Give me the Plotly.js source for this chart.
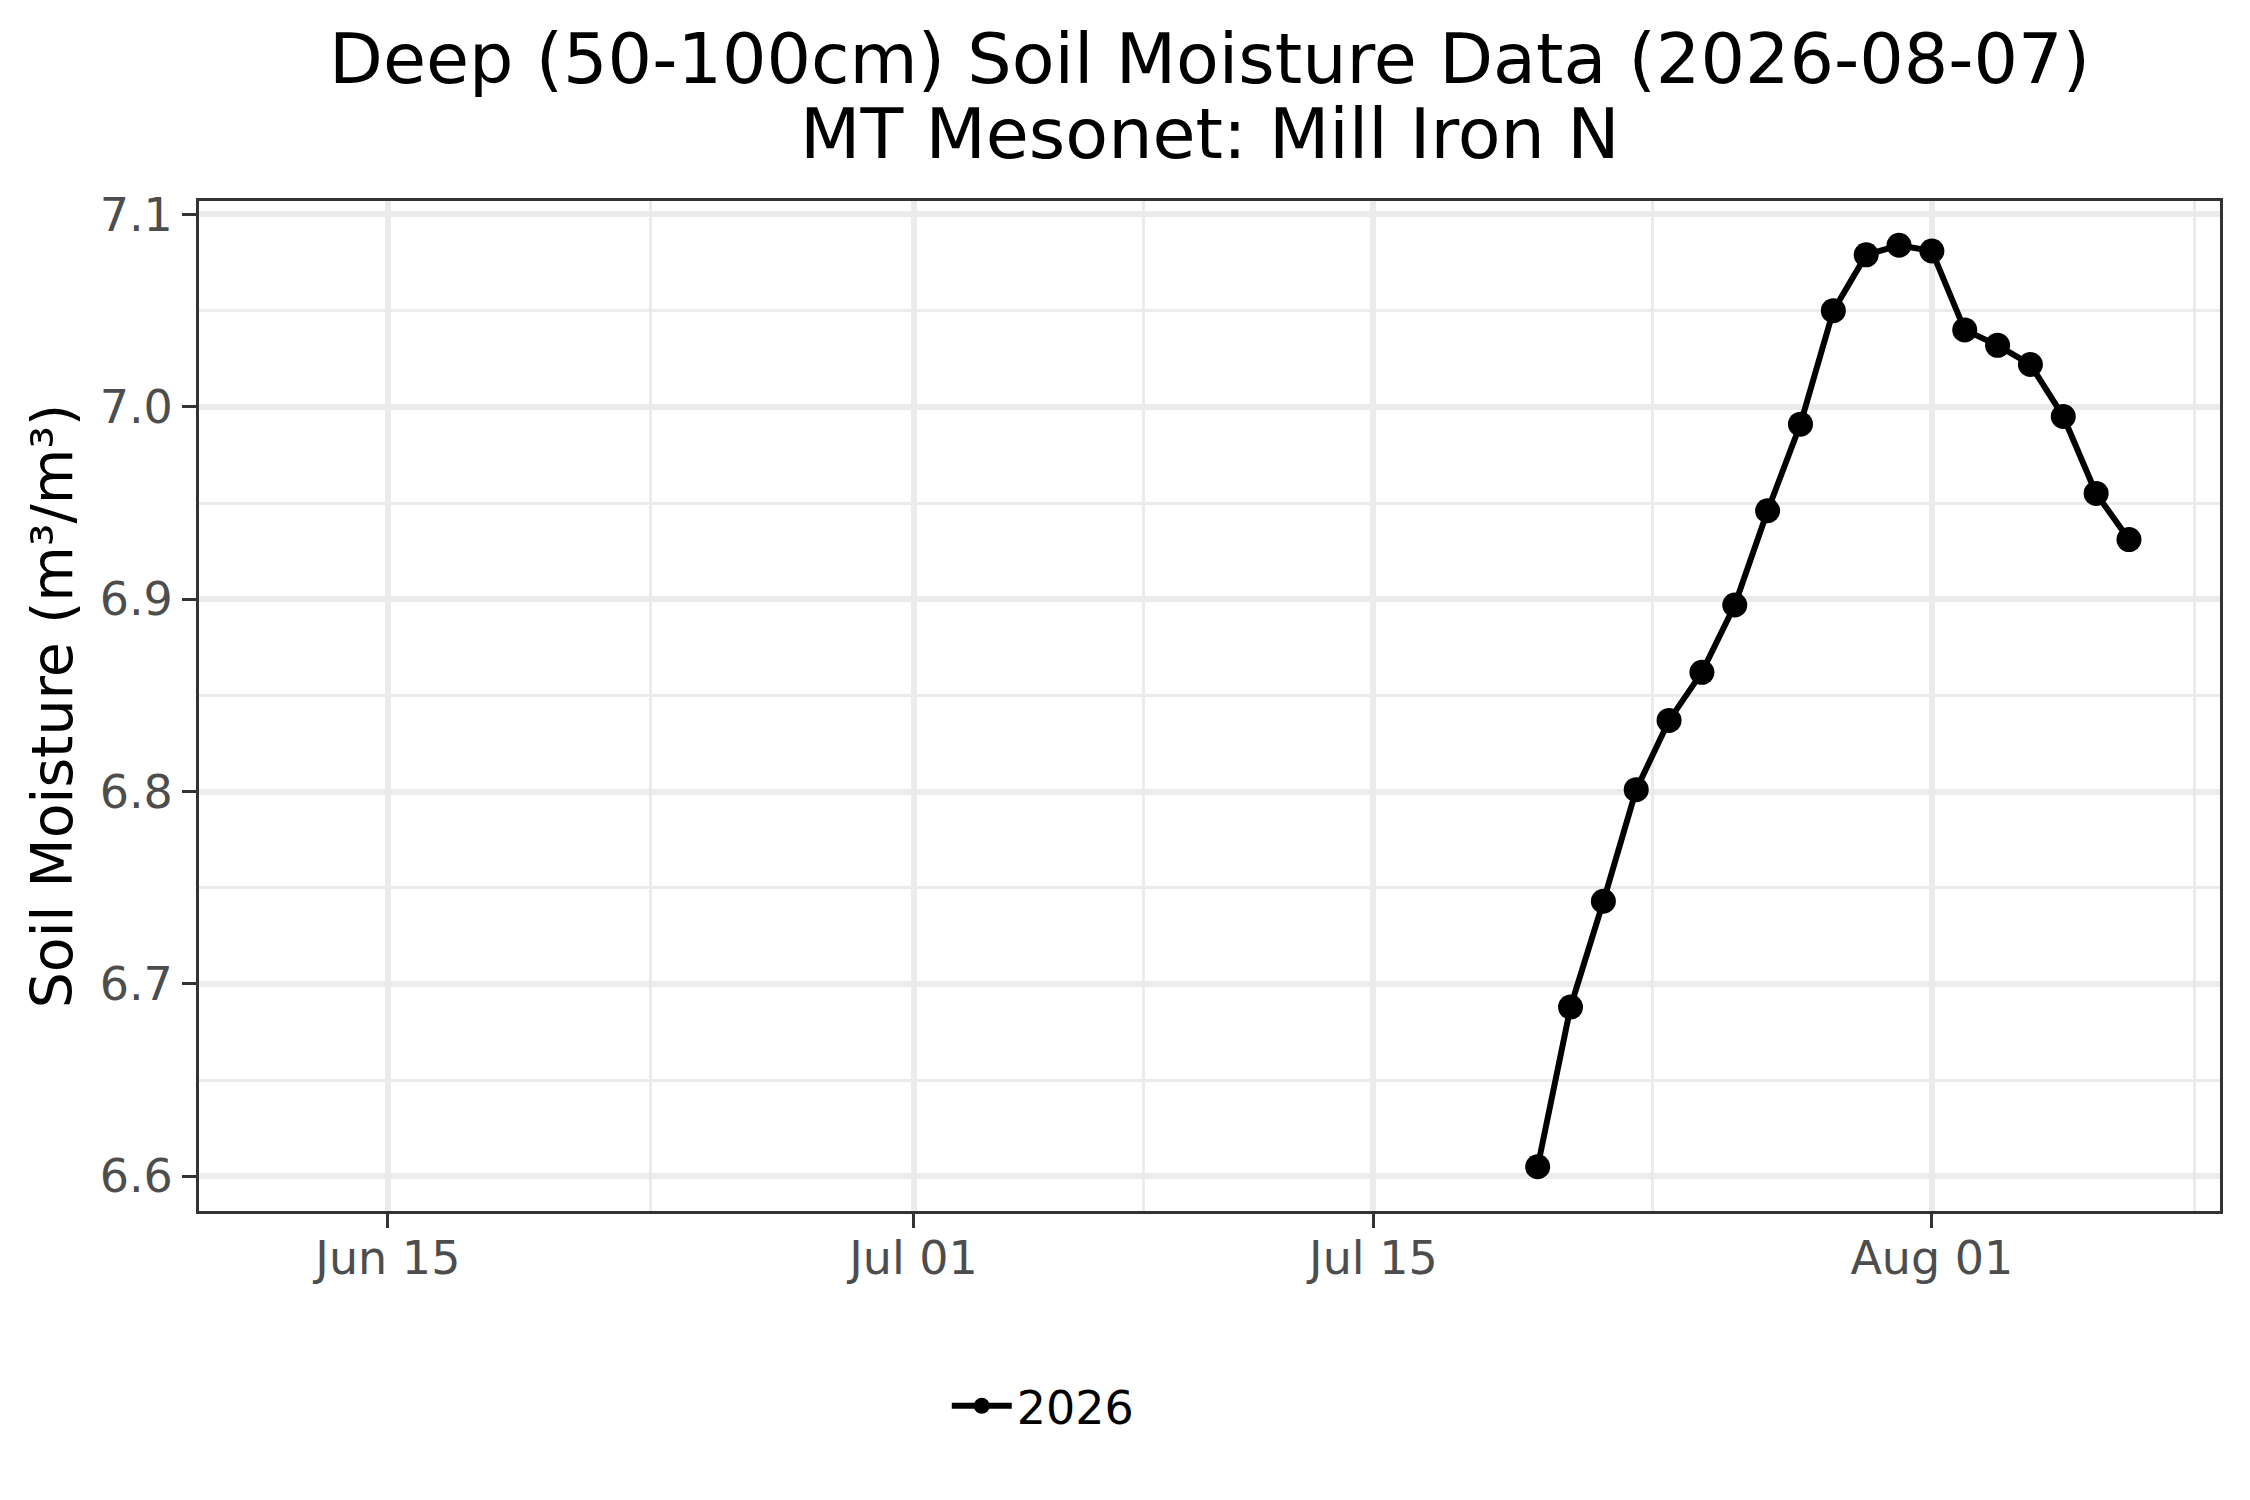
<!DOCTYPE html>
<html>
<head>
<meta charset="utf-8">
<script src="https://cdn.plot.ly/plotly-3.0.1.min.js"></script>
<style>
  html, body { margin: 0; padding: 0; background: #ffffff; }
  #chart { width: 2250px; height: 1500px; }
</style>
</head>
<body>
<div id="chart"></div>
<script>
// daily deep soil moisture
const dates = [
	'2026-07-20', '2026-07-21', '2026-07-22', '2026-07-23', '2026-07-24',
	'2026-07-25', '2026-07-26', '2026-07-27', '2026-07-28', '2026-07-29',
	'2026-07-30', '2026-07-31', '2026-08-01', '2026-08-02', '2026-08-03',
	'2026-08-04', '2026-08-05', '2026-08-06', '2026-08-07'
];
const moisture = [
	6.605, 6.688, 6.743, 6.801, 6.837,
	6.862, 6.897, 6.946, 6.991, 7.050,
	7.079, 7.084, 7.081, 7.040, 7.032,
	7.022, 6.995, 6.955, 6.931
];
const seriesName = '2026';

const titleLine1 = 'Deep (50-100cm) Soil Moisture Data (2026-08-07)';
const titleLine2 = 'MT Mesonet: Mill Iron N';

// axis breaks
const xTicks = ['2026-06-15', '2026-07-01', '2026-07-15', '2026-08-01'];
const xMinor = ['2026-06-23', '2026-07-08', '2026-07-23 12:00', '2026-08-09'];
const yTicks = [6.6, 6.7, 6.8, 6.9, 7.0, 7.1];
const yTickText = ['6.6', '6.7', '6.8', '6.9', '7.0', '7.1'];
const yMinor = [6.65, 6.75, 6.85, 6.95, 7.05];

const font = 'DejaVu Sans, Liberation Sans, sans-serif';

const trace = {
	x: dates,
	y: moisture,
	name: seriesName,
	type: 'scatter',
	mode: 'lines+markers',
	line: {color: '#000000', width: 6},
	marker: {color: '#000000', size: 25}
};

const layout = {
	width: 2250,
	height: 1500,
	paper_bgcolor: '#ffffff',
	plot_bgcolor: '#ffffff',
	margin: {l: 199, r: 30, t: 201, b: 289},
	font: {family: font, color: '#000000'},
	title: {
		text: titleLine1,
		font: {family: font, size: 70, color: '#000000'},
		xref: 'paper',
		x: 0.5,
		xanchor: 'center',
		yref: 'container',
		y: 0.9607,
		yanchor: 'middle'
	},
	// second title line, kept apart so its spacing matches the original
	annotations: [{
		text: titleLine2,
		font: {family: font, size: 70, color: '#000000'},
		xref: 'paper',
		x: 0.5,
		xanchor: 'center',
		yref: 'paper',
		y: 1.0663,
		yanchor: 'middle',
		showarrow: false
	}],
	xaxis: {
		type: 'date',
		range: ['2026-06-09 06:00', '2026-08-09 18:30'],
		tickmode: 'array',
		tickvals: xTicks,
		tickformat: '%b %d',
		tickfont: {family: font, size: 46, color: '#4D4D4D'},
		ticks: 'outside',
		ticklen: 14,
		tickwidth: 3,
		tickcolor: '#333333',
		ticklabelstandoff: -9,
		showgrid: true,
		gridcolor: '#EBEBEB',
		gridwidth: 6,
		minor: {
			tickmode: 'array',
			tickvals: xMinor,
			showgrid: true,
			gridcolor: '#EBEBEB',
			gridwidth: 3,
			ticks: ''
		},
		showline: true,
		linecolor: '#333333',
		linewidth: 3,
		mirror: true,
		zeroline: false
	},
	yaxis: {
		range: [6.582, 7.107],
		tickmode: 'array',
		tickvals: yTicks,
		ticktext: yTickText,
		tickfont: {family: font, size: 46, color: '#4D4D4D'},
		ticks: 'outside',
		ticklen: 14,
		tickwidth: 3,
		tickcolor: '#333333',
		showgrid: true,
		gridcolor: '#EBEBEB',
		gridwidth: 6,
		minor: {
			tickmode: 'array',
			tickvals: yMinor,
			showgrid: true,
			gridcolor: '#EBEBEB',
			gridwidth: 3,
			ticks: ''
		},
		showline: true,
		linecolor: '#333333',
		linewidth: 3,
		mirror: true,
		zeroline: false,
		title: {
			text: 'Soil Moisture (m³/m³)',
			font: {family: font, size: 57, color: '#000000'},
			standoff: 9
		}
	},
	showlegend: true,
	legend: {
		orientation: 'h',
		x: 0.37,
		xanchor: 'left',
		y: -0.193,
		yanchor: 'middle',
		itemwidth: 60,
		font: {family: font, size: 46, color: '#000000'},
		bgcolor: 'rgba(0,0,0,0)'
	}
};

Plotly.newPlot('chart', [trace], layout, {staticPlot: true});
</script>
</body>
</html>
